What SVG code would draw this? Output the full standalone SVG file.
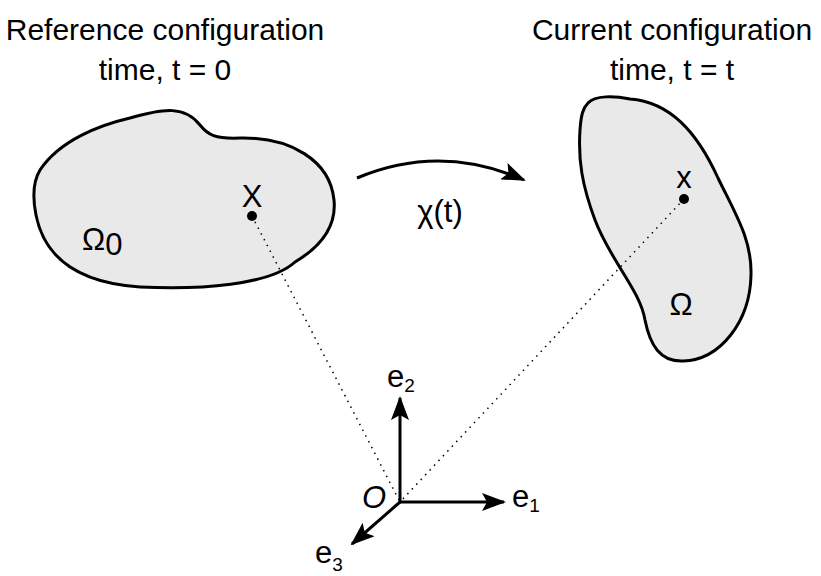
<svg xmlns="http://www.w3.org/2000/svg" width="821" height="576" viewBox="0 0 821 576">
<style>
text{font-family:"Liberation Sans",Arial,sans-serif;fill:#000}
.t{font-size:30px;text-anchor:middle}
.lbl{font-size:31px}
.blob{fill:#e9e9e9;stroke:#000;stroke-width:3}
.dot{stroke:#000;stroke-width:1.5;stroke-dasharray:1.5 5;fill:none}
.ax{stroke:#000;stroke-width:3;fill:none;marker-end:url(#ah)}
</style>
<defs>
<marker id="ah" markerWidth="24" markerHeight="18" refX="22" refY="9" orient="auto" markerUnits="userSpaceOnUse"><path d="M0,0 L24,9 L0,18 L5,9 Z" fill="#000"/></marker>
</defs>
<text class="t" x="165" y="40">Reference configuration</text>
<text class="t" x="165" y="80">time, t = 0</text>
<text class="t" x="672" y="40">Current configuration</text>
<text class="t" x="672" y="80">time, t = t</text>
<g id="ref-body">
<path class="blob" d="M40,170 C60,140 100,125 130,118 C165,108 185,106 200,125 C208,135 215,139 240,138 C290,137 330,160 334,200 C337,230 315,250 295,262 C270,285 200,290 140,287 C80,283 45,260 36,215 C32,195 34,180 40,170 Z"/>
<text class="lbl" x="82" y="250">Ω<tspan dy="5">0</tspan></text>
</g>
<g id="cur-body">
<path class="blob" d="M588,103 C595,95 615,96 630,99 C670,102 697,132 718,178 C736,215 752,240 751,275 C750,322 720,360 683,361 C660,362 650,345 645,320 C640,290 610,260 595,220 C582,185 578,160 580,130 C581,115 583,108 588,103 Z"/>
<text class="lbl" x="681" y="315" text-anchor="middle">Ω</text>
</g>
<g id="connectors">
<line class="dot" x1="252" y1="216" x2="400" y2="502"/>
<line class="dot" x1="684" y1="199" x2="400" y2="502"/>
<path d="M357,178 Q440,143 524,180" stroke="#000" stroke-width="3" fill="none" marker-end="url(#ah)"/>
<text class="lbl" x="440" y="222" text-anchor="middle">χ(t)</text>
</g>
<g id="point-X">
<circle cx="252" cy="216" r="5" fill="#000"/>
<text class="lbl" x="252" y="207" text-anchor="middle">X</text>
</g>
<g id="point-x">
<circle cx="684" cy="199" r="5" fill="#000"/>
<text class="lbl" x="684" y="188" text-anchor="middle">x</text>
</g>
<g id="axes">
<line class="ax" x1="400" y1="502" x2="400" y2="398"/>
<line class="ax" x1="400" y1="502" x2="504" y2="502"/>
<line class="ax" x1="400" y1="502" x2="352" y2="544"/>
<text class="lbl" x="362" y="508" font-style="italic" font-size="28">O</text>
<text class="lbl" x="387" y="387">e<tspan font-size="19" dy="5">2</tspan></text>
<text class="lbl" x="512" y="507">e<tspan font-size="19" dy="5">1</tspan></text>
<text class="lbl" x="315" y="563">e<tspan font-size="19" dy="8">3</tspan></text>
</g>
</svg>
